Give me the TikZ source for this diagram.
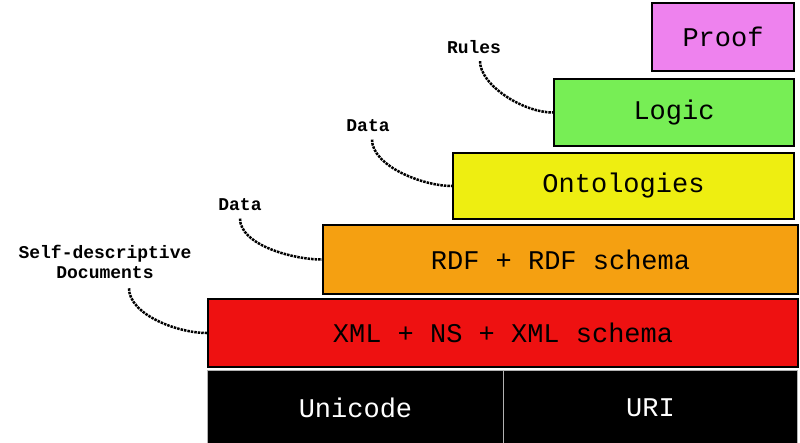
\documentclass[tikz,border=0pt]{standalone}
\usepackage{fontspec}
\setmonofont{Liberation Mono}
\usetikzlibrary{positioning}
\definecolor{proofc}{HTML}{EE82EE}
\definecolor{logicc}{HTML}{77EE55}
\definecolor{ontoc}{HTML}{EEEE11}
\definecolor{rdfc}{HTML}{F5A011}
\definecolor{xmlc}{HTML}{EE1111}
\tikzset{
  layer/.style={draw=black,line width=2pt,anchor=north west,inner sep=0pt,
    font=\ttfamily\fontsize{27}{27}\selectfont},
  base/.style={layer,fill=black,text=white,draw=white!70!black,line width=1pt},
  note/.style={font=\ttfamily\bfseries\fontsize{18}{20}\selectfont,align=center},
  link/.style={densely dotted,line width=2.5pt}
}
\begin{document}
\begin{tikzpicture}[x=1pt,y=-1pt]
  \useasboundingbox (0,0) rectangle (800,442);
  % layers
  \node [layer,fill=proofc,minimum width=142,minimum height=68] (proof) at (651,2) {Proof};
  \node [layer,fill=logicc,minimum width=240,minimum height=67] (logic) at (553,78) {Logic};
  \node [layer,fill=ontoc,minimum width=341,minimum height=66] (onto) at (452,152) {Ontologies};
  \node [layer,fill=rdfc,minimum width=475,minimum height=69] (rdf) at (322,224) {RDF + RDF schema};
  \node [layer,fill=xmlc,minimum width=590,minimum height=68] (xml) at (207,298) {XML + NS + XML schema};
  \node [base,minimum width=296,minimum height=74] (uni) at (207,370) {Unicode};
  \node [base,minimum width=294,minimum height=74] (uri) at (503,370) {URI};
  % notes
  \node [note] (rules) at (474,47) {Rules};
  \node [note] (data1) at (368,126) {Data};
  \node [note] (data2) at (240,205) {Data};
  \node [note] (self) at (105,262) {Self-descriptive\\Documents};
  \draw [link] (rules.south) ++(6,4) .. controls +(0,24) and +(-30,0) .. (logic.west);
  \draw [link] (data1.south) ++(4,4) .. controls +(0,26) and +(-30,0) .. (onto.west);
  \draw [link] (data2.south) ++(0,4) .. controls +(0,26) and +(-30,0) .. (rdf.west);
  \draw [link] (self.south) ++(24,6) .. controls +(0,26) and +(-30,0) .. (xml.west);
\end{tikzpicture}
\end{document}
